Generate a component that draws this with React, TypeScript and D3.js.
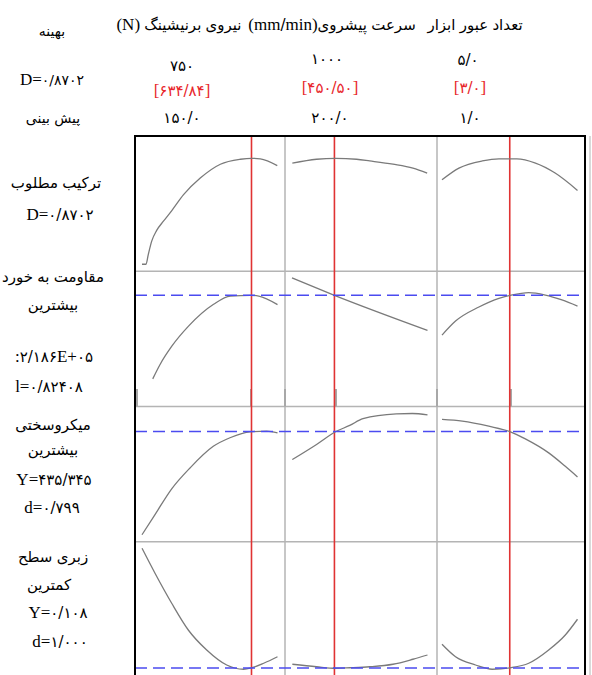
import React from "react";
import * as d3 from "d3";

// factors (columns)
const factorNames = ["(N)  نیروی برنیشینگ", "(mm/min)سرعت پیشروی", "تعداد عبور ابزار"];
const factorHigh = ["۷۵۰", "۱۰۰۰", "۵/۰"];
const factorCur = ["[۶۳۴/۸۴]", "[۴۵۰/۵۰]", "[۳/۰]"];
const factorLow = ["۱۵۰/۰", "۲۰۰/۰", "۱/۰"];
const factorDomain = [[150, 750], [200, 1000], [1, 5]];
const factorOpt = [634.84, 450.5, 3.0];

// responses (rows): y domains and target lines
const rowDomain = [[0, 1], [1.49, 2.3], [380, 445], [0.1, 0.585]];
const rowTarget = [null, 2.186, 435.345, 0.108];

// desirability D
const forceD = [[150, 0], [167.8, 0], [178, 0.082], [193, 0.191], [215, 0.279], [245, 0.355], [282, 0.443], [334, 0.574], [408, 0.711], [497, 0.825], [586, 0.866], [634.8, 0.874], [674, 0.869], [749, 0.814]];
const feedD = [[202, 0.834], [345, 0.866], [457, 0.874], [581, 0.866], [659, 0.852], [796, 0.825], [914, 0.793], [998, 0.752]];
const passD = [[1, 0.697], [1.5, 0.793], [2.19, 0.852], [2.68, 0.869], [3.21, 0.869], [3.76, 0.834], [4.34, 0.752], [5, 0.609]];

// wear resistance (x1e5)
const forceW = [[197.6, 1.628], [230, 1.724], [282, 1.846], [356, 1.98], [467, 2.126], [541, 2.181], [630, 2.186], [667, 2.181], [750, 2.124]];
const feedW = [[200, 2.302], [450.5, 2.186], [1000, 1.952]];
const passW = [[1, 1.92], [1.4, 2.014], [2.09, 2.108], [2.68, 2.166], [3.02, 2.186], [3.56, 2.204], [4.05, 2.188], [4.54, 2.155], [5, 2.114]];

// microhardness
const forceH = [[150, 380], [207.6, 390.8], [281.5, 404.6], [362.5, 415.8], [465.7, 427.4], [539.7, 432], [628, 435.2], [702, 435.5], [750, 434.6]];
const feedH = [[202, 420.3], [345, 428.4], [457, 435.2], [541, 438.6], [619, 442.2], [816, 444.8], [910, 445], [1000, 444.3]];
const passH = [[1, 441.8], [1.6, 440.9], [2.38, 438.2], [3.02, 435.2], [3.46, 431.4], [4.15, 423.9], [4.64, 416.7], [5, 411]];

// surface roughness
const forceR = [[150, 0.587], [207.6, 0.487], [281.5, 0.367], [355, 0.26], [436.5, 0.18], [525, 0.12], [599, 0.103], [636, 0.109], [689, 0.127], [750, 0.153]];
const feedR = [[202, 0.123], [345, 0.113], [457, 0.107], [541, 0.109], [659, 0.113], [796, 0.123], [914, 0.143], [1000, 0.16]];
const passR = [[1, 0.203], [1.4, 0.153], [1.99, 0.12], [2.48, 0.103], [3.02, 0.109], [3.56, 0.127], [4.15, 0.18], [4.64, 0.24], [5, 0.303]];

const curves = [
  [forceD, feedD, passD],
  [forceW, feedW, passW],
  [forceH, feedH, passH],
  [forceR, feedR, passR],
];

// left-hand labels
const rowLabels = [
  ["ترکیب مطلوب", "D=۰/۸۷۰۲"],
  ["مقاومت به خورد", "بیشترین", ":۲/۱۸۶E+۰۵", "l=۰/۸۲۴۰۸"],
  ["میکروسختی", "بیشترین", "Y=۴۳۵/۳۴۵", "d=۰/۷۹۹"],
  ["زبری سطح", "کمترین", "Y=۰/۱۰۸", "d=۱/۰۰۰"],
];

const W = 592;
const H = 675;
const left = 135;
const right = 585;
const top = 136;
const rowH = 135.25;
const pad = 7;
const latin = "'Liberation Serif', 'Times New Roman', serif";
const persian = "'DejaVu Sans', sans-serif";

// split text into latin / persian runs so each gets its own font
function Mixed({ s }: { s: string }) {
  const runs = s.match(/[A-Za-z()+=:\[\] ]+|[^A-Za-z()+=:\[\] ]+/g) || [];
  return (
    <>
      {runs.map((r, i) =>
        /[A-Za-z]/.test(r) || /^[()+=:\[\] ]+$/.test(r) ? (
          <tspan key={i} fontFamily={latin} fontSize={17}>{r}</tspan>
        ) : (
          <tspan key={i} fontFamily={persian}>{r}</tspan>
        )
      )}
    </>
  );
}

export default function App() {
  const colX = d3.scaleLinear().domain([0, 3]).range([left, right]);
  const rowY = (i: number) => top + i * rowH;
  const bottom = rowY(4);

  const xScale = (c: number) =>
    d3.scaleLinear().domain(factorDomain[c]).range([colX(c) + pad, colX(c + 1) - pad - 0.5]);
  const yScale = (r: number) =>
    d3.scaleLinear().domain(rowDomain[r]).range([rowY(r + 1) - pad, rowY(r) + pad]);

  const labelYs = [
    [183, 215],
    [277, 305, 357, 387],
    [425, 450, 480, 508],
    [557, 585, 613, 642],
  ];
  const labelXs = [
    [56, 60],
    [53, 53, 54, 49],
    [53, 53, 54, 52],
    [53, 49, 58, 60],
  ];

  return (
    <svg width={W} height={H} style={{ position: "absolute", left: 0, top: 0, background: "#fff" }} fontFamily={persian}>
      <rect width={W} height={H} fill="#fff" />

      {/* header */}
      <text x={52} y={36} fontSize={14} textAnchor="middle">بهینه</text>
      <text x={52} y={85} fontSize={14} textAnchor="middle"><Mixed s="D=۰/۸۷۰۲" /></text>
      <text x={53} y={123} fontSize={14} textAnchor="middle">پیش بینی</text>
      {factorNames.map((n, c) => (
        <g key={c}>
          <text x={[179, 332, 475][c]} y={30} fontSize={15} textAnchor="middle"><Mixed s={n} /></text>
          <text x={[182, 327, 468][c]} y={[71, 64, 65][c]} fontSize={15} textAnchor="middle">{factorHigh[c]}</text>
          <text x={[182, 330, 470][c]} y={[96, 93, 93][c]} fontSize={15} textAnchor="middle" fill="#e8262b"><Mixed s={factorCur[c]} /></text>
          <text x={[182, 330, 470][c]} y={123} fontSize={15} textAnchor="middle">{factorLow[c]}</text>
        </g>
      ))}

      {/* row labels */}
      {rowLabels.map((lines, r) =>
        lines.map((t, k) => (
          <text key={`${r}-${k}`} x={labelXs[r][k]} y={labelYs[r][k] + 5} fontSize={15} textAnchor="middle"><Mixed s={t} /></text>
        ))
      )}

      {/* grid */}
      {[1, 2].map((c) => (
        <line key={`vc${c}`} x1={colX(c) + (c === 2 ? 2 : 0)} x2={colX(c) + (c === 2 ? 2 : 0)} y1={top} y2={bottom} stroke="#b4b4b4" strokeWidth={1.5} />
      ))}
      {[1, 2, 3].map((r) => (
        <line key={`hr${r}`} x1={left} x2={right} y1={rowY(r)} y2={rowY(r)} stroke="#b4b4b4" strokeWidth={1.5} />
      ))}
      {[137, 251, 285, 336, 437, 511].map((x) => (
        <line key={`tk${x}`} x1={x} x2={x} y1={389} y2={rowY(2)} stroke="#a8a8a8" strokeWidth={2} />
      ))}

      {/* optimum lines */}
      {factorOpt.map((v, c) => {
        const x = xScale(c)(v);
        return <line key={`opt${c}`} x1={x} x2={x} y1={top} y2={bottom} stroke="#e03333" strokeWidth={1.6} />;
      })}

      {/* curves */}
      {curves.map((row, r) =>
        row.map((pts, c) => {
          const xs = xScale(c);
          const ys = yScale(r);
          const line = d3
            .line<number[]>()
            .x((d) => xs(d[0]))
            .y((d) => ys(d[1]))
            .curve(d3.curveMonotoneX);
          return <path key={`cv${r}-${c}`} d={line(pts) || ""} fill="none" stroke="#7a7a7a" strokeWidth={1.3} />;
        })
      )}

      {/* target lines */}
      {rowTarget.map((t, r) => {
        if (t === null) return null;
        const y = yScale(r)(t);
        return (
          <line key={`tg${r}`} x1={left} x2={right} y1={y} y2={y} stroke="#4b4bf0" strokeWidth={1.6} strokeDasharray="12,6" />
        );
      })}

      {/* frame */}
      <rect x={left} y={top} width={right - left} height={bottom - top} fill="none" stroke="#000" strokeWidth={2} />
      <line x1={590} x2={590} y1={top} y2={bottom} stroke="#ccc" strokeWidth={1.5} />
    </svg>
  );
}
